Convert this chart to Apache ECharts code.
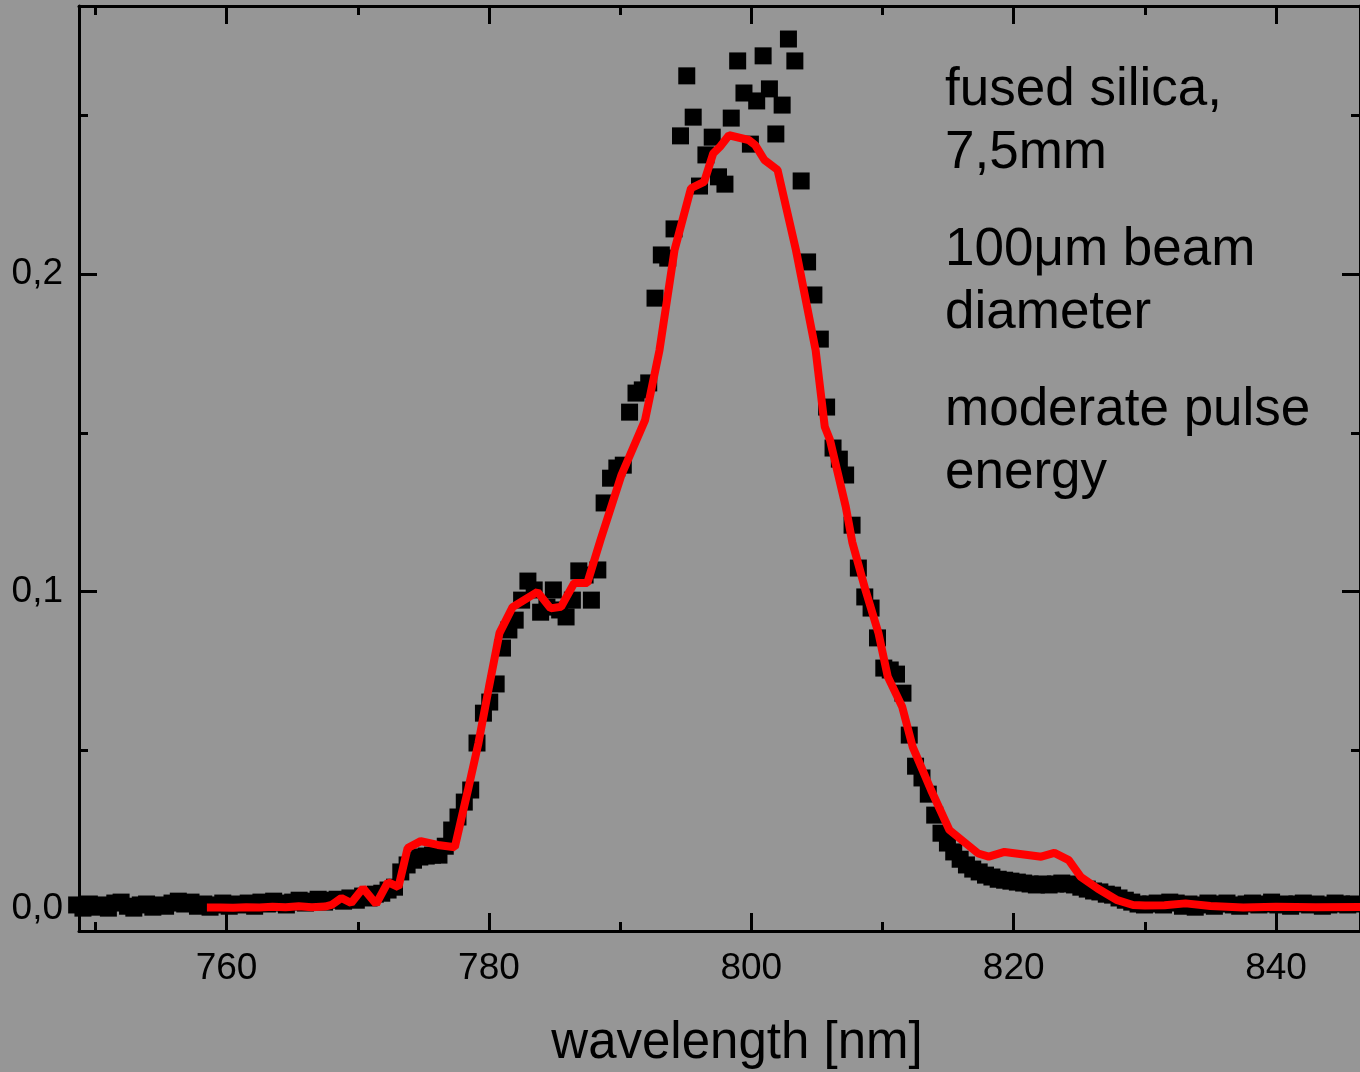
<!DOCTYPE html>
<html><head><meta charset="utf-8">
<script src="https://cdn.jsdelivr.net/npm/echarts@6/dist/echarts.min.js"></script>
<style>html,body{margin:0;padding:0;background:#969696;}#c{width:1360px;height:1072px;}</style>
</head><body><div id="c"></div>
<script>
// measured spectrum (black squares)
const wavelength = [
748.57,749.05,749.54,750.02,750.51,750.99,751.48,751.96,752.45,752.93,
753.42,753.90,754.38,754.87,755.35,755.84,756.32,756.81,757.29,757.78,
758.26,758.74,759.23,759.71,760.20,760.68,761.17,761.65,762.14,762.62,
763.11,763.59,764.07,764.56,765.04,765.53,766.01,766.50,766.98,767.47,
767.95,768.43,768.92,769.40,769.89,770.37,770.86,771.34,771.83,772.31,
772.80,773.28,773.76,774.25,774.73,775.22,775.70,776.19,776.67,777.16,
777.64,778.12,778.61,779.09,779.58,780.06,780.55,781.03,781.52,782.00,
782.49,782.97,783.45,783.94,784.42,784.91,785.39,785.88,786.36,786.85,
787.33,787.81,788.30,788.78,789.27,789.75,790.24,790.72,791.21,791.69,
792.18,792.66,793.14,793.63,794.11,794.60,795.08,795.57,796.05,796.54,
797.02,797.50,797.99,798.47,798.96,799.44,799.93,800.41,800.90,801.38,
801.87,802.35,802.83,803.32,803.80,804.29,804.77,805.26,805.74,806.23,
806.71,807.19,807.68,808.16,808.65,809.13,809.62,810.10,810.59,811.07,
811.56,812.04,812.52,813.01,813.49,813.98,814.46,814.95,815.43,815.92,
816.40,816.88,817.37,817.85,818.34,818.82,819.31,819.79,820.28,820.76,
821.25,821.73,822.21,822.70,823.18,823.67,824.15,824.64,825.12,825.61,
826.09,826.57,827.06,827.54,828.03,828.51,829.00,829.48,829.97,830.45,
830.94,831.42,831.90,832.39,832.87,833.36,833.84,834.33,834.81,835.30,
835.78,836.26,836.75,837.23,837.72,838.20,838.69,839.17,839.66,840.14,
840.63,841.11,841.59,842.08,842.56,843.05,843.53,844.02,844.50,844.99,
845.47,845.95
];
const measured = [
0.0013,0.0003,0.0016,0.0006,0.0013,0.0003,0.0019,0.0022,0.0009,0.0003,
0.0013,0.0016,0.0006,0.0013,0.0009,0.0019,0.0025,0.0016,0.0022,0.0009,
0.0016,0.0006,0.0013,0.0019,0.0009,0.0016,0.0013,0.0019,0.0009,0.0022,
0.0016,0.0025,0.0019,0.0013,0.0022,0.0028,0.0019,0.0025,0.0031,0.0022,
0.0028,0.0031,0.0025,0.0035,0.0028,0.0041,0.0035,0.0047,0.0050,0.0060,
0.0069,0.0117,0.0139,0.0154,0.0164,0.0167,0.0170,0.0170,0.0198,0.0249,
0.0290,0.0337,0.0375,0.0523,0.0617,0.0652,0.0709,0.0822,0.0879,0.0910,
0.0973,0.1033,0.1005,0.0935,0.0951,0.1005,0.0942,0.0920,0.0973,0.1065,
0.1052,0.0973,0.1068,0.1279,0.1357,0.1389,0.1398,0.1565,0.1625,0.1635,
0.1657,0.1924,0.2060,0.2050,0.2142,0.2435,0.2624,0.2494,0.2277,0.2375,
0.2431,0.2306,0.2283,0.2491,0.2671,0.2570,0.2409,0.2545,0.2687,0.2583,
0.2441,0.2532,0.2740,0.2671,0.2293,0.2038,0.1934,0.1795,0.1581,0.1452,
0.1417,0.1367,0.1209,0.1074,0.0983,0.0948,0.0854,0.0759,0.0753,0.0740,
0.0680,0.0548,0.0450,0.0413,0.0362,0.0296,0.0239,0.0208,0.0180,0.0157,
0.0139,0.0126,0.0117,0.0107,0.0101,0.0094,0.0091,0.0088,0.0085,0.0082,
0.0079,0.0076,0.0079,0.0076,0.0079,0.0082,0.0079,0.0076,0.0069,0.0063,
0.0057,0.0054,0.0047,0.0044,0.0035,0.0028,0.0022,0.0016,0.0013,0.0016,
0.0019,0.0013,0.0022,0.0019,0.0009,0.0016,0.0006,0.0013,0.0019,0.0009,
0.0016,0.0019,0.0013,0.0009,0.0016,0.0019,0.0013,0.0016,0.0022,0.0013,
0.0016,0.0009,0.0016,0.0019,0.0013,0.0016,0.0009,0.0013,0.0019,0.0016,
0.0013,0.0016
];
// fitted / simulated curve (red line)
const fitWavelength = [
758.5,759.5,760.5,761.5,762.5,763.5,764.5,765.5,766.5,767.5,
768.0,768.75,769.5,770.4,771.4,772.3,773.1,773.8,774.8,776.1,
777.4,778.4,779.2,780.0,780.8,781.8,783.7,784.7,785.5,786.5,
787.5,788.5,790.1,791.9,793.0,794.15,795.4,796.4,797.1,797.6,
798.3,799.8,800.3,801.0,802.0,803.4,804.9,805.6,806.0,807.2,
807.7,808.7,809.7,810.4,811.5,812.3,813.7,815.1,817.3,818.1,
819.3,822.1,823.1,824.2,825.1,826.4,827.9,829.1,830.0,831.5,
833.1,835.0,837.5,840.0,843.0,846.6
];
const fitValues = [
0.0005,0.0005,0.0004,0.0006,0.0005,0.0007,0.0006,0.0009,0.0006,0.0008,
0.0013,0.0035,0.0019,0.0066,0.0016,0.0085,0.0069,0.0192,0.0214,0.0202,
0.0195,0.0375,0.0523,0.0699,0.0869,0.0951,0.0999,0.0947,0.0952,0.1027,
0.1027,0.1162,0.1367,0.1540,0.1760,0.2076,0.2270,0.2290,0.2380,0.2400,
0.2437,0.2422,0.2406,0.2359,0.2328,0.2076,0.1761,0.1519,0.1477,0.1267,
0.1155,0.1005,0.0868,0.0732,0.0637,0.0511,0.0375,0.0249,0.0175,0.0165,
0.0180,0.0165,0.0177,0.0154,0.0102,0.0065,0.0028,0.0013,0.0011,0.0012,
0.0018,0.0010,0.0005,0.0007,0.0006,0.0007
];
const xMajorTicks = [760, 780, 800, 820, 840];
const xMinorTicks = [750, 770, 790, 810, 830];
const yMajorTicks = [0, 0.1, 0.2];
const yMinorTicks = [0.05, 0.15, 0.25];
const annotationLines = ["fused silica,", "7,5mm", "100\u03BCm beam", "diameter", "moderate pulse", "energy"];
const xTitle = "wavelength [nm]";

const X_MIN = 748.75, X_MAX = 846.4, Y_MIN = -0.0069, Y_MAX = 0.2844;
const FONT = "'Liberation Sans', Arial, sans-serif";
const black = '#000';

function xAx(pos, ticks, len, showLine, labels) {
  return {
    type: 'value', position: pos, min: X_MIN, max: X_MAX,
    axisLine: {show: showLine, onZero: false, lineStyle: {color: black, width: 3}},
    axisTick: {show: true, inside: true, length: len, customValues: ticks, lineStyle: {color: black, width: 3}},
    axisLabel: labels ? {show: true, customValues: ticks, color: black, fontSize: 37, fontFamily: FONT, margin: 19} : {show: false},
    splitLine: {show: false}
  };
}
function yAx(pos, ticks, len, showLine, labels) {
  return {
    type: 'value', position: pos, min: Y_MIN, max: Y_MAX,
    axisLine: {show: showLine, onZero: false, lineStyle: {color: black, width: 3}},
    axisTick: {show: true, inside: true, length: len, customValues: ticks, lineStyle: {color: black, width: 3}},
    axisLabel: labels ? {show: true, customValues: ticks, color: black, fontSize: 37, fontFamily: FONT, margin: 16,
      formatter: v => v.toFixed(1).replace('.', ',')} : {show: false},
    splitLine: {show: false}
  };
}

const baselines = [107, 170, 267, 330, 427, 490];
const ANN_SIZE = 53;
const graphics = annotationLines.map((t, i) => ({
  type: 'text', x: 945, y: baselines[i] - 0.31 * ANN_SIZE, z: 10,
  style: {text: t, fill: black, fontSize: ANN_SIZE, fontFamily: FONT, textAlign: 'left', textVerticalAlign: 'middle'}
}));
graphics.push({
  type: 'text', x: 737, y: 1044, z: 10,
  style: {text: xTitle, fill: black, fontSize: 51, fontFamily: FONT, textAlign: 'center', textVerticalAlign: 'middle'}
});

const chart = echarts.init(document.getElementById('c'), null, {renderer: 'canvas'});
chart.setOption({
  backgroundColor: '#969696',
  animation: false,
  grid: {left: 79, top: 6, right: -8, bottom: 141, containLabel: false},
  xAxis: [
    xAx('bottom', xMajorTicks, 18, true, true),
    xAx('bottom', xMinorTicks, 9, false, false),
    xAx('top', xMajorTicks, 18, true, false),
    xAx('top', xMinorTicks, 9, false, false)
  ],
  yAxis: [
    yAx('left', yMajorTicks, 18, true, true),
    yAx('left', yMinorTicks, 9, false, false),
    yAx('right', yMajorTicks, 18, true, false),
    yAx('right', yMinorTicks, 9, false, false)
  ],
  series: [
    {
      type: 'scatter', xAxisIndex: 0, yAxisIndex: 0, symbol: 'rect', symbolSize: 17, clip: false,
      itemStyle: {color: black, opacity: 1}, z: 2,
      data: wavelength.map((w, i) => [w, measured[i]])
    },
    {
      type: 'line', xAxisIndex: 0, yAxisIndex: 0, showSymbol: false, symbol: 'none', z: 3,
      lineStyle: {color: '#ff0000', width: 8, opacity: 1},
      data: fitWavelength.map((w, i) => [w, fitValues[i]])
    }
  ],
  graphic: graphics
});
</script>
</body></html>
